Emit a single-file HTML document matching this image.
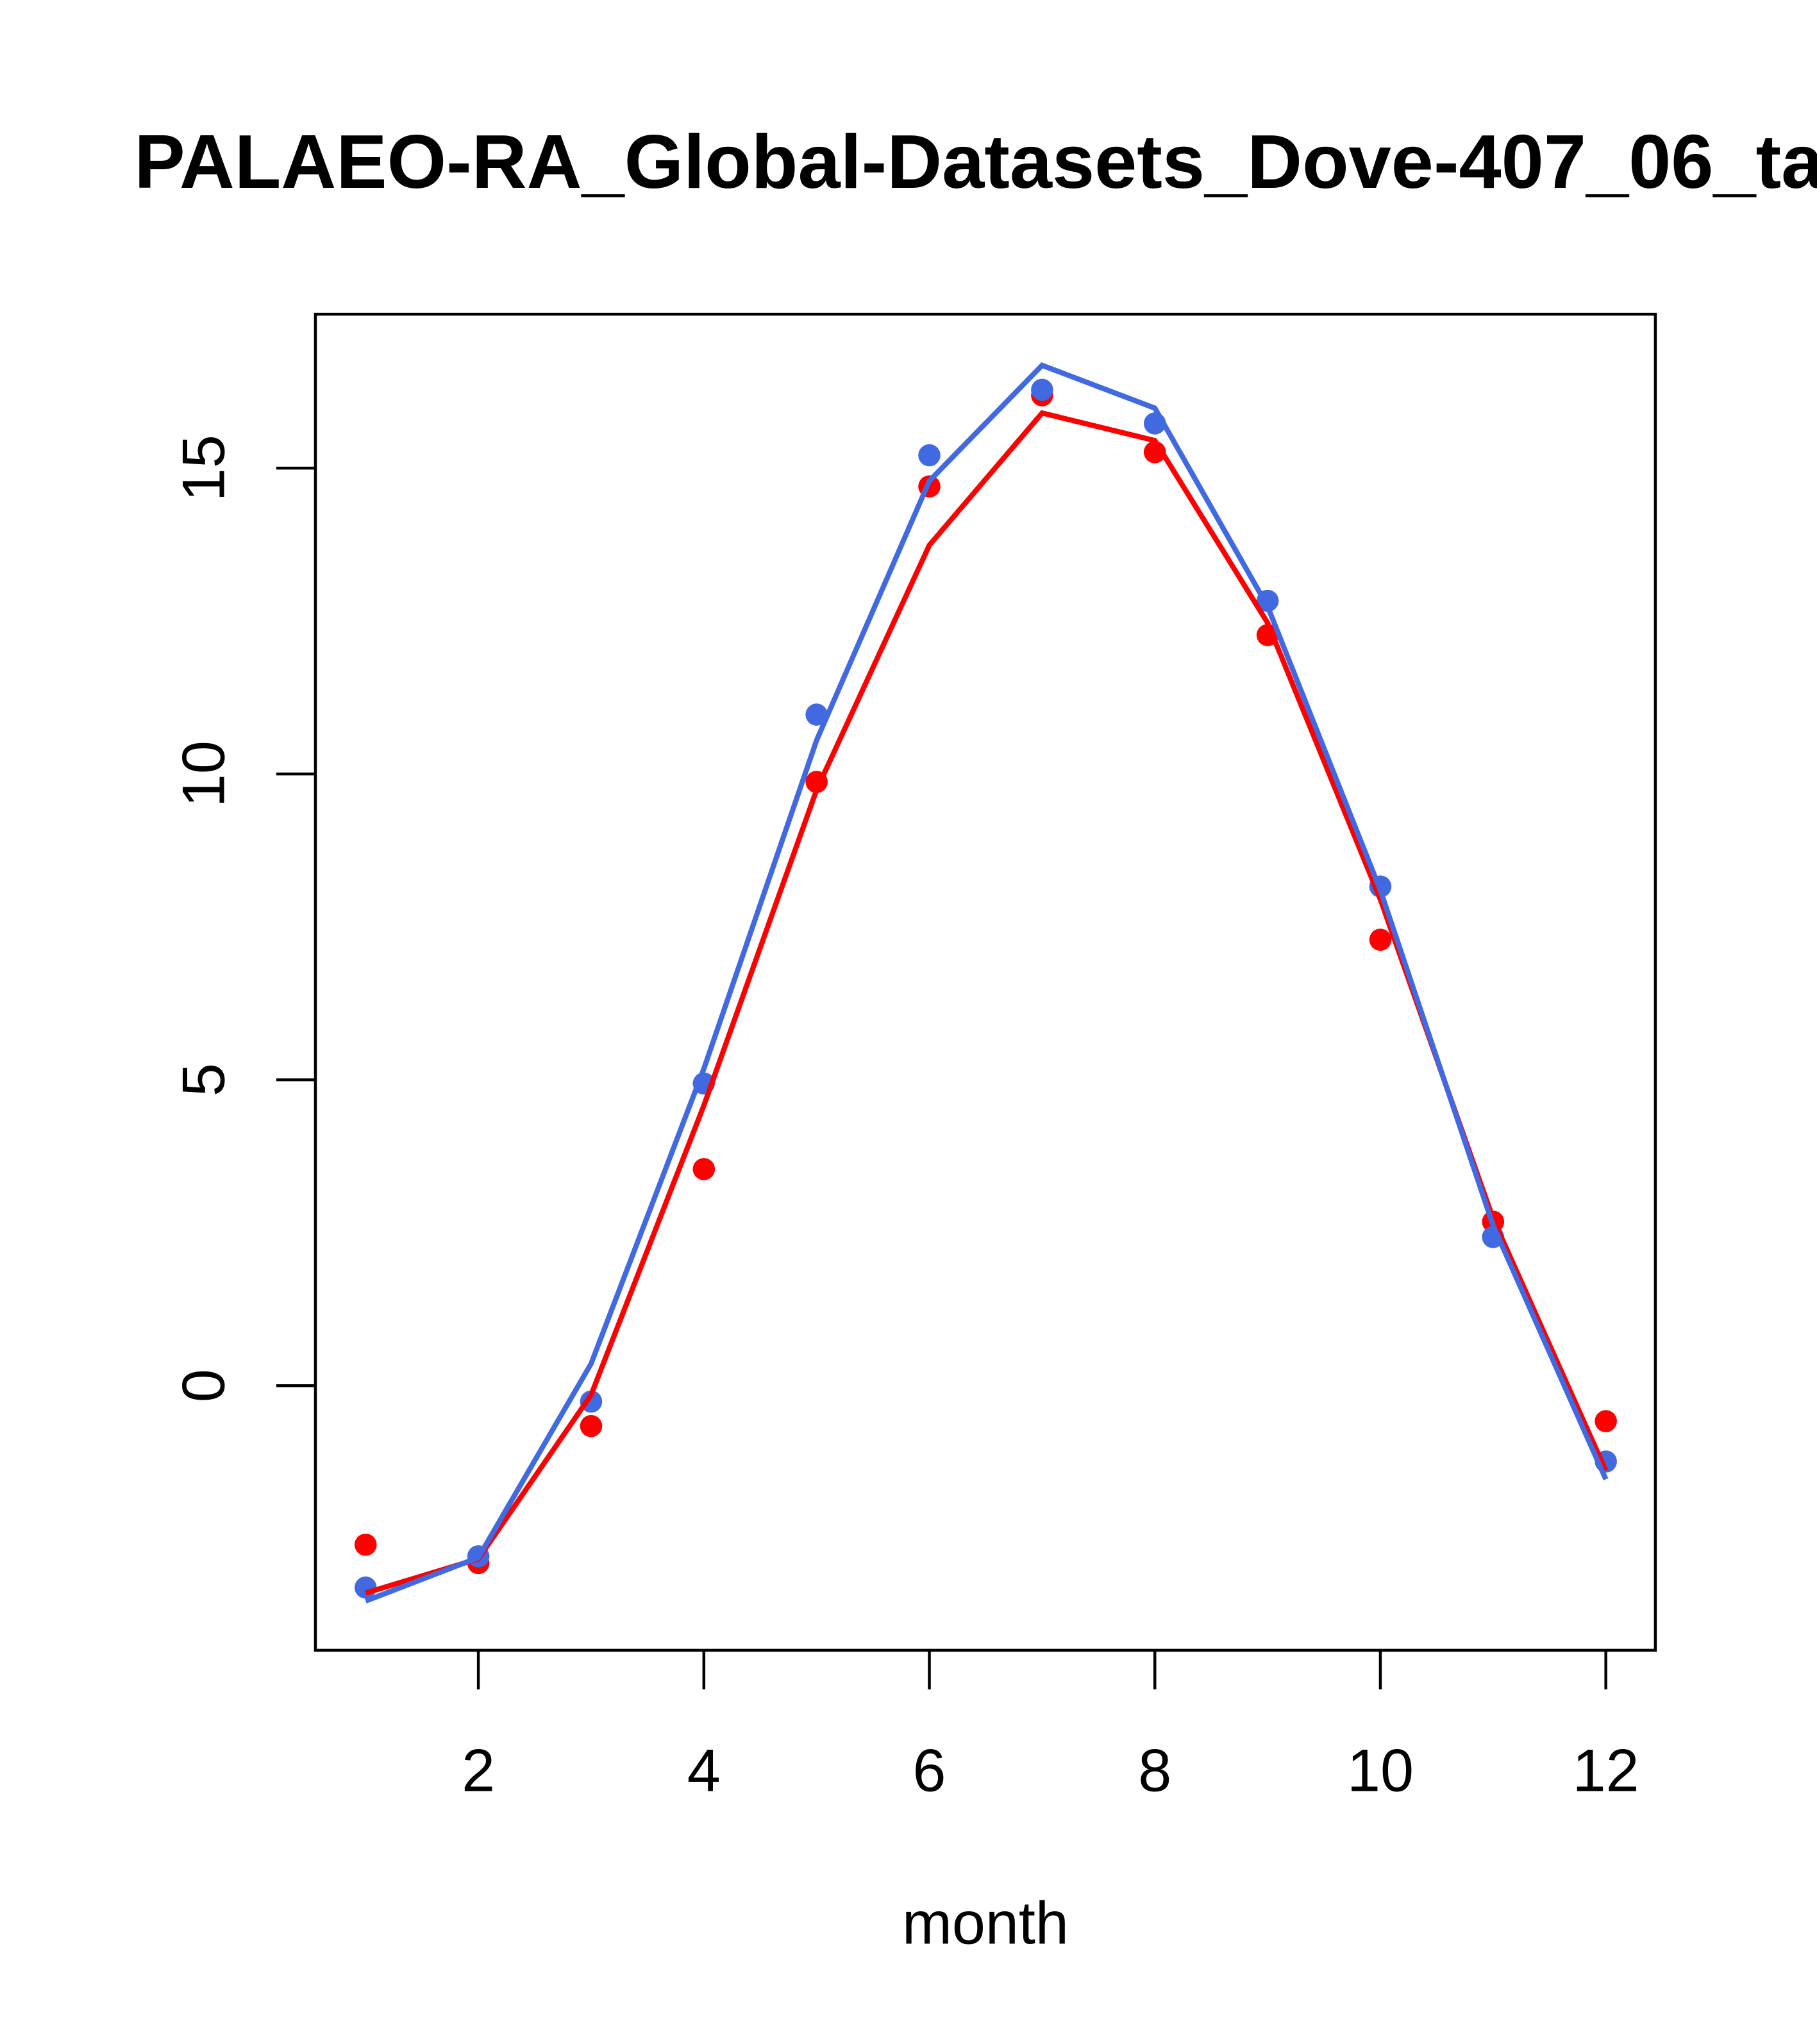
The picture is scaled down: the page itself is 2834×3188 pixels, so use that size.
<!DOCTYPE html>
<html><head><meta charset="utf-8"><style>html,body{margin:0;padding:0;background:#fff;overflow:hidden}svg{display:block}</style></head>
<body>
<svg id="chart" width="2834" height="3188" viewBox="0 0 1394 1568" xmlns="http://www.w3.org/2000/svg" font-family="'Liberation Sans', sans-serif">
<rect width="1394" height="1568" fill="#fff"/>
<text x="103" y="144" font-size="58.5" font-weight="bold">PALAEO-RA_Global-Datasets_Dove-407_06_ta</text>
<rect x="242" y="241" width="1028" height="1025" fill="none" stroke="#000" stroke-width="2.2"/>
<g id="xaxis"></g>
<g id="yaxis"></g>
<text x="756" y="1491" font-size="46" text-anchor="middle">month</text>
<g id="series"></g>
</svg>
<script>
const months = [1,2,3,4,5,6,7,8,9,10,11,12];
const redPoints = [-2.6,-2.9,-0.66,3.54,9.87,14.7,16.19,15.26,12.27,7.29,2.68,-0.58];
const redLine = [-3.39,-2.83,-0.15,4.58,9.74,13.74,15.9,15.45,12.47,7.95,2.73,-1.39];
const bluePoints = [-3.3,-2.79,-0.26,4.94,10.97,15.21,16.28,15.73,12.83,8.16,2.43,-1.24];
const blueLine = [-3.52,-2.81,0.36,5.18,10.55,14.79,16.68,15.98,12.74,8.1,2.62,-1.53];
const xTicks = [2,4,6,8,10,12];
const yTicks = [0,5,10,15];

const NS = "http://www.w3.org/2000/svg";
const xs = m => 280.5 + (m - 1) * 86.5;
const ys = v => 1063 - v * 46.93;
function mk(tag, attrs, parent) {
  const e = document.createElementNS(NS, tag);
  for (const k in attrs) e.setAttribute(k, attrs[k]);
  parent.appendChild(e);
  return e;
}
const xa = document.getElementById('xaxis');
xTicks.forEach(t => {
  const l = mk('line', {x1: xs(t), x2: xs(t), y1: 1266, y2: 1296, stroke: '#000', 'stroke-width': 2.2}, xa);
  
  
  const tx = mk('text', {x: xs(t), y: 1374, 'font-size': 46, 'text-anchor': 'middle'}, xa);
  tx.textContent = t;
  
  
});
const ya = document.getElementById('yaxis');
yTicks.forEach(t => {
  const l = mk('line', {x1: 212, x2: 242, y1: ys(t), y2: ys(t), stroke: '#000', 'stroke-width': 2.2}, ya);
  
  
  const tx = mk('text', {x: 172, y: ys(t), 'font-size': 46, 'text-anchor': 'middle', transform: `rotate(-90 172 ${ys(t)})`}, ya);
  tx.textContent = t;
  
  
});
const sg = document.getElementById('series');
function line(vals, color, name) {
  const p = mk('polyline', {points: vals.map((v, i) => xs(months[i]) + ',' + ys(v)).join(' '), fill: 'none', stroke: color, 'stroke-width': 4}, sg);
  
  
}
function pts(vals, color, name) {
  vals.forEach((v, i) => {
    const c = mk('circle', {cx: xs(months[i]), cy: ys(v), r: 8.5, fill: color}, sg);
    
    
  });
}
pts(redPoints, '#ff0000', 'red-point');
pts(bluePoints, '#4169e1', 'blue-point');
line(redLine, '#ff0000', 'red-line');
line(blueLine, '#4169e1', 'blue-line');
</script>
</body></html>
